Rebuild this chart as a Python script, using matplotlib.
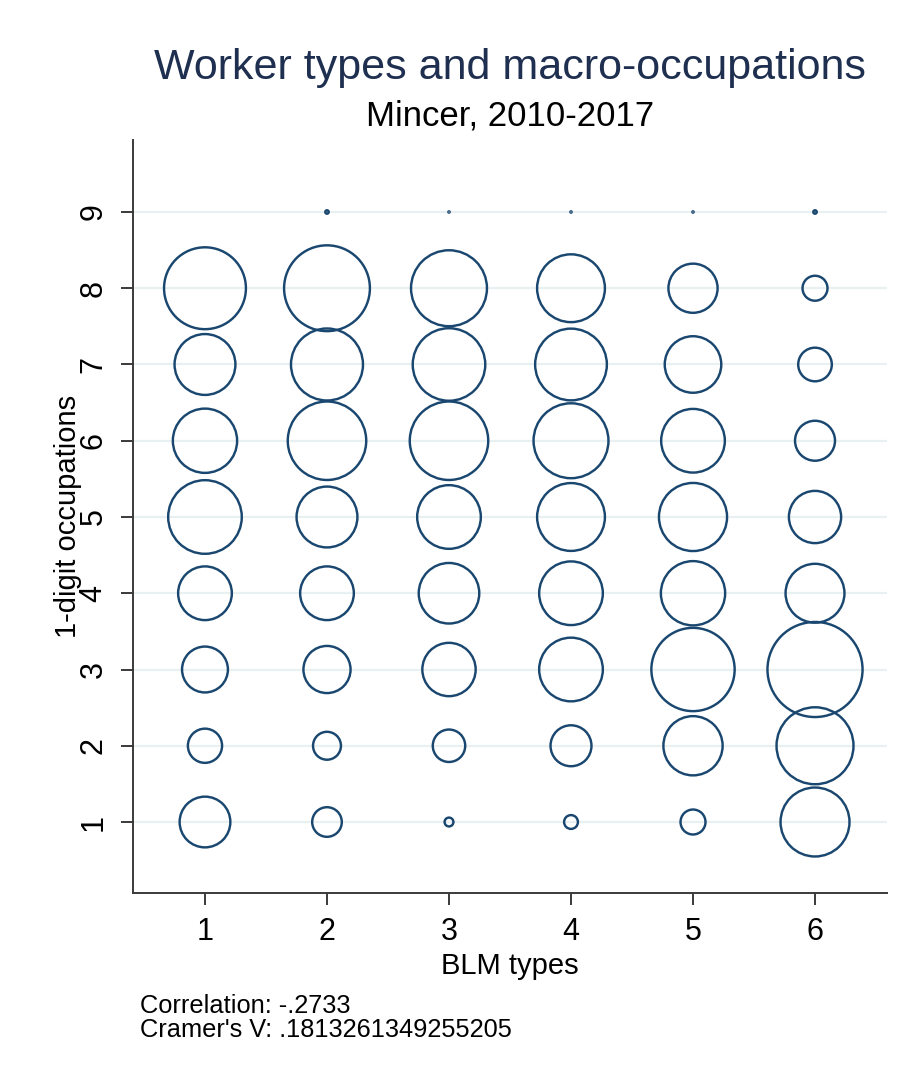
import matplotlib
matplotlib.use("Agg")
import matplotlib.pyplot as plt
import numpy as np

plt.rcParams['font.family'] = ['Liberation Sans', 'DejaVu Sans']

# Cell weights (relative frequency) of each 1-digit occupation within each BLM type
occupations = [1, 2, 3, 4, 5, 6, 7, 8, 9]
blm_types = [1, 2, 3, 4, 5, 6]
type1_weights = [66, 30, 54, 74, 139, 106, 95, 172, 0]
type2_weights = [22.5, 20, 57, 74, 95, 158, 133, 189, 0.3]
type3_weights = [2, 27, 73, 94, 104, 158, 135, 148, 0.04]
type4_weights = [4.9, 43, 104, 104, 118, 144, 132, 118, 0.04]
type5_weights = [16, 90, 178, 106, 119, 104, 82, 62, 0.04]
type6_weights = [122, 152, 232, 89, 70, 41, 29, 16, 0.3]

title = "Worker types and macro-occupations"
subtitle = "Mincer, 2010-2017"
xlabel = "BLM types"
ylabel = "1-digit occupations"
note_lines = ["Correlation: -.2733", "Cramer's V: .1813261349255205"]

NAVY = "#1a476f"
AXIS_GREY = "#3a3a3a"
GRID = "#e8f0f2"
TITLE_COLOR = "#1e2f50"
AREA_PER_UNIT = 20.2  # marker area (pt^2) per unit of weight

W, H = 904, 1072
fig = plt.figure(figsize=(W / 100, H / 100), dpi=100)
fig.patch.set_facecolor("white")
ax = fig.add_axes([133 / W, 1 - 893 / H, (887 - 133) / W, (893 - 140) / H])

all_weights = [type1_weights, type2_weights, type3_weights,
               type4_weights, type5_weights, type6_weights]
for t, w in zip(blm_types, all_weights):
    ax.scatter([t] * len(occupations), occupations,
               s=np.asarray(w) * AREA_PER_UNIT,
               facecolors="none", edgecolors=NAVY, linewidths=1.75, zorder=3)

ax.set_xlim(0.41, 6.59)
ax.set_ylim(0.069, 9.944)
ax.set_xticks(blm_types)
ax.set_yticks(occupations)
ax.set_yticklabels([str(o) for o in occupations], rotation=90, va="center")

ax.yaxis.grid(True, color=GRID, linewidth=1.6)
ax.xaxis.grid(False)
ax.set_axisbelow(True)

for side in ("top", "right"):
    ax.spines[side].set_visible(False)
for side in ("left", "bottom"):
    ax.spines[side].set_color(AXIS_GREY)
    ax.spines[side].set_linewidth(1.4)

ax.tick_params(axis="both", length=8.5, width=1.4, color=AXIS_GREY,
               labelsize=22, labelcolor="black", pad=9)

fig.text(510 / W, 1 - 79 / H, title, ha="center", va="baseline",
         fontsize=31, color=TITLE_COLOR)
fig.text(510 / W, 1 - 125 / H, subtitle, ha="center", va="baseline",
         fontsize=25, color="black")

fig.text(510 / W, 1 - 966 / H, xlabel, ha="center", va="center",
         fontsize=21, color="black")
fig.text(68 / W, 1 - 516 / H, ylabel, ha="center", va="center",
         rotation=90, fontsize=21, color="black")

fig.text(140 / W, 1 - 1013 / H, note_lines[0], ha="left", va="baseline",
         fontsize=18.3, color="black")
fig.text(140 / W, 1 - 1037 / H, note_lines[1], ha="left", va="baseline",
         fontsize=18.3, color="black")

fig.savefig("out.png", dpi=100, facecolor="white")
